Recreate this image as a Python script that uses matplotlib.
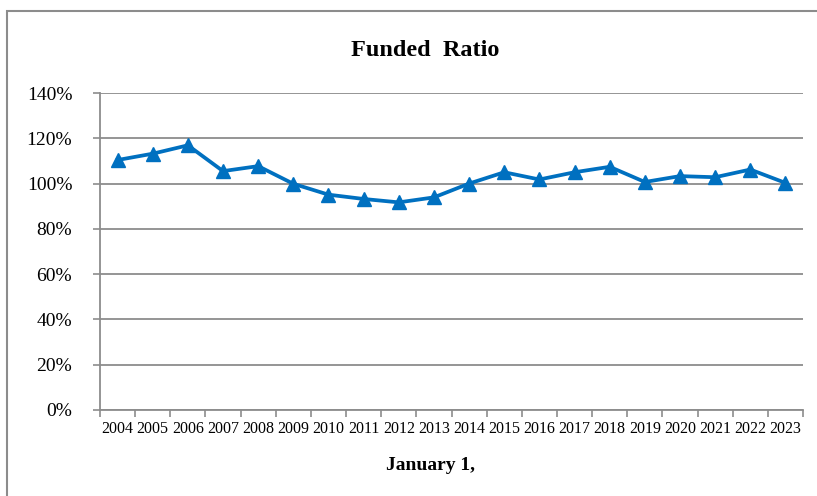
import matplotlib
matplotlib.use("Agg")
import matplotlib.pyplot as plt
from matplotlib.patches import Rectangle
from matplotlib.ticker import FuncFormatter, MultipleLocator

# data
years = [str(y) for y in range(2004, 2024)]
funded_ratio = [110.4, 113.2, 116.9, 105.5, 107.7, 99.9, 95.1, 93.2, 91.7, 93.9,
                100.0, 105.0, 101.8, 105.0, 107.4, 100.7, 103.3, 102.8, 106.2, 100.3]

plt.rcParams['font.family'] = ['Liberation Serif', 'DejaVu Serif']

fig = plt.figure(figsize=(8.17, 4.96), dpi=100)
ax = fig.add_axes([100/817, 1-410/496, 703/817, 317/496])

# outer chart frame (cut off at right and bottom)
fig.patches.append(Rectangle((7/817, -0.05), 2, (496-11)/496 + 0.05, transform=fig.transFigure,
                             fill=False, edgecolor='#8c8c8c', linewidth=1.5))

x = list(range(len(years)))
ax.plot(x, funded_ratio, color='#0070C0', linewidth=2.7, marker='^', markersize=9.5,
        markerfacecolor='#0070C0', markeredgecolor='#0070C0', zorder=3)

ax.set_xlim(-0.5, len(years) - 0.5)
ax.set_ylim(0, 140)
ax.yaxis.set_major_locator(MultipleLocator(20))
ax.yaxis.set_major_formatter(FuncFormatter(lambda v, p: f"{int(v)}%"))
ax.grid(axis='y', color='#8c8c8c', linewidth=1.3)
ax.set_axisbelow(True)

ax.set_xticks([i - 0.5 for i in range(len(years) + 1)])
ax.set_xticklabels([])
ax.set_xticks(x, minor=True)
ax.set_xticklabels(years, minor=True, fontsize=11.5)
ax.tick_params(axis='x', which='minor', length=0, pad=8)
ax.tick_params(axis='x', which='major', length=5, color='#8c8c8c', width=1.2)
ax.tick_params(axis='y', length=5, color='#8c8c8c', width=1.2, labelsize=14, pad=15)

for s in ['top', 'right']:
    ax.spines[s].set_visible(False)
for s in ['left', 'bottom']:
    ax.spines[s].set_color('#8c8c8c')
    ax.spines[s].set_linewidth(1.3)

fig.text(425/817, 1-50/496, "Funded  Ratio", fontsize=17.5, fontweight='bold',
         ha='center', va='center')
fig.text(430/817, 1-465/496, "January 1,", fontsize=14, fontweight='bold',
         ha='center', va='center')

fig.savefig("out.png", dpi=100)
